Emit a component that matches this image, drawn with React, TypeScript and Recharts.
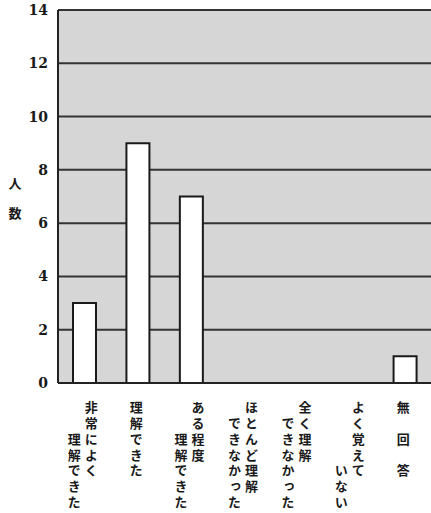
import React from 'react';
import { BarChart, Bar, XAxis, YAxis, CartesianGrid, Label } from 'recharts';

// columns of vertical text are separated by \n, full-width spaces indent a column
const CATEGORIES = [
  '非常によく\n　　理解できた',
  '理解できた',
  'ある程度\n　　理解できた',
  'ほとんど理解\n　できなかった',
  '全く理解\n　できなかった',
  'よく覚えて\n　　　　いない',
  '無　回　答',
];
const COUNTS = [3, 9, 7, 0, 0, 0, 1];
const Y_TICKS = [0, 2, 4, 6, 8, 10, 12, 14];

const data = CATEGORIES.map((name, i) => ({ name, count: COUNTS[i] }));

const JP_FONT = '"Noto Sans CJK JP", "Noto Sans", sans-serif';
const COL_GAP = 17;

const VerticalTick = (props: any) => {
  const { x, y, payload } = props;
  const cols: string[] = String(payload.value).split('\n');
  const n = cols.length;
  return (
    <g>
      {cols.map((col, ci) => (
        <text
          key={ci}
          x={x - 2 + ((n - 1) / 2) * COL_GAP - ci * COL_GAP}
          y={y + 18}
          style={{ writingMode: 'vertical-rl', letterSpacing: '2.7px' }}
          fontFamily={JP_FONT}
          fontWeight="bold"
          fontSize={13}
          fill="#1a1a1a"
        >
          {col}
        </text>
      ))}
    </g>
  );
};

const YTick = (props: any) => {
  const { x, y, payload } = props;
  return (
    <text
      x={x}
      y={y}
      textAnchor="end"
      dominantBaseline="central"
      fontFamily='"DejaVu Serif", serif'
      fontWeight="bold"
      fontSize={14}
      fill="#1a1a1a"
    >
      {payload.value}
    </text>
  );
};

const YLabel = (props: any) => {
  const vb = props.viewBox || {};
  const cy = vb.y + vb.height / 2;
  return (
    <g fontFamily={JP_FONT} fontWeight="bold" fontSize={13} fill="#1a1a1a">
      <text x={15} y={cy - 14} textAnchor="middle" dominantBaseline="central">人</text>
      <text x={15} y={cy + 16} textAnchor="middle" dominantBaseline="central">数</text>
    </g>
  );
};

export default function App() {
  return (
    <div style={{ position: 'absolute', left: 0, top: 0, background: '#fff' }}>
      <BarChart
        width={431}
        height={513}
        data={data}
        margin={{ top: 10, right: -1, bottom: 0, left: 0 }}
        barCategoryGap={0}
      >
        <CartesianGrid
          vertical={false}
          fill="#d6d6d6"
          stroke="#333"
          strokeWidth={2}
          horizontalValues={Y_TICKS}
        />
        <XAxis
          dataKey="name"
          interval={0}
          height={130}
          tickLine={false}
          tickSize={0}
          tickMargin={0}
          axisLine={{ stroke: '#222', strokeWidth: 2 }}
          tick={<VerticalTick />}
        />
        <YAxis
          width={58}
          domain={[0, 14]}
          ticks={Y_TICKS}
          interval={0}
          tickLine={false}
          tickSize={6}
          tickMargin={4}
          axisLine={{ stroke: '#222', strokeWidth: 2 }}
          tick={<YTick />}
        >
          <Label content={<YLabel />} />
        </YAxis>
        <Bar
          dataKey="count"
          fill="#ffffff"
          stroke="#1a1a1a"
          strokeWidth={2}
          barSize={23}
          isAnimationActive={false}
        />
      </BarChart>
    </div>
  );
}
